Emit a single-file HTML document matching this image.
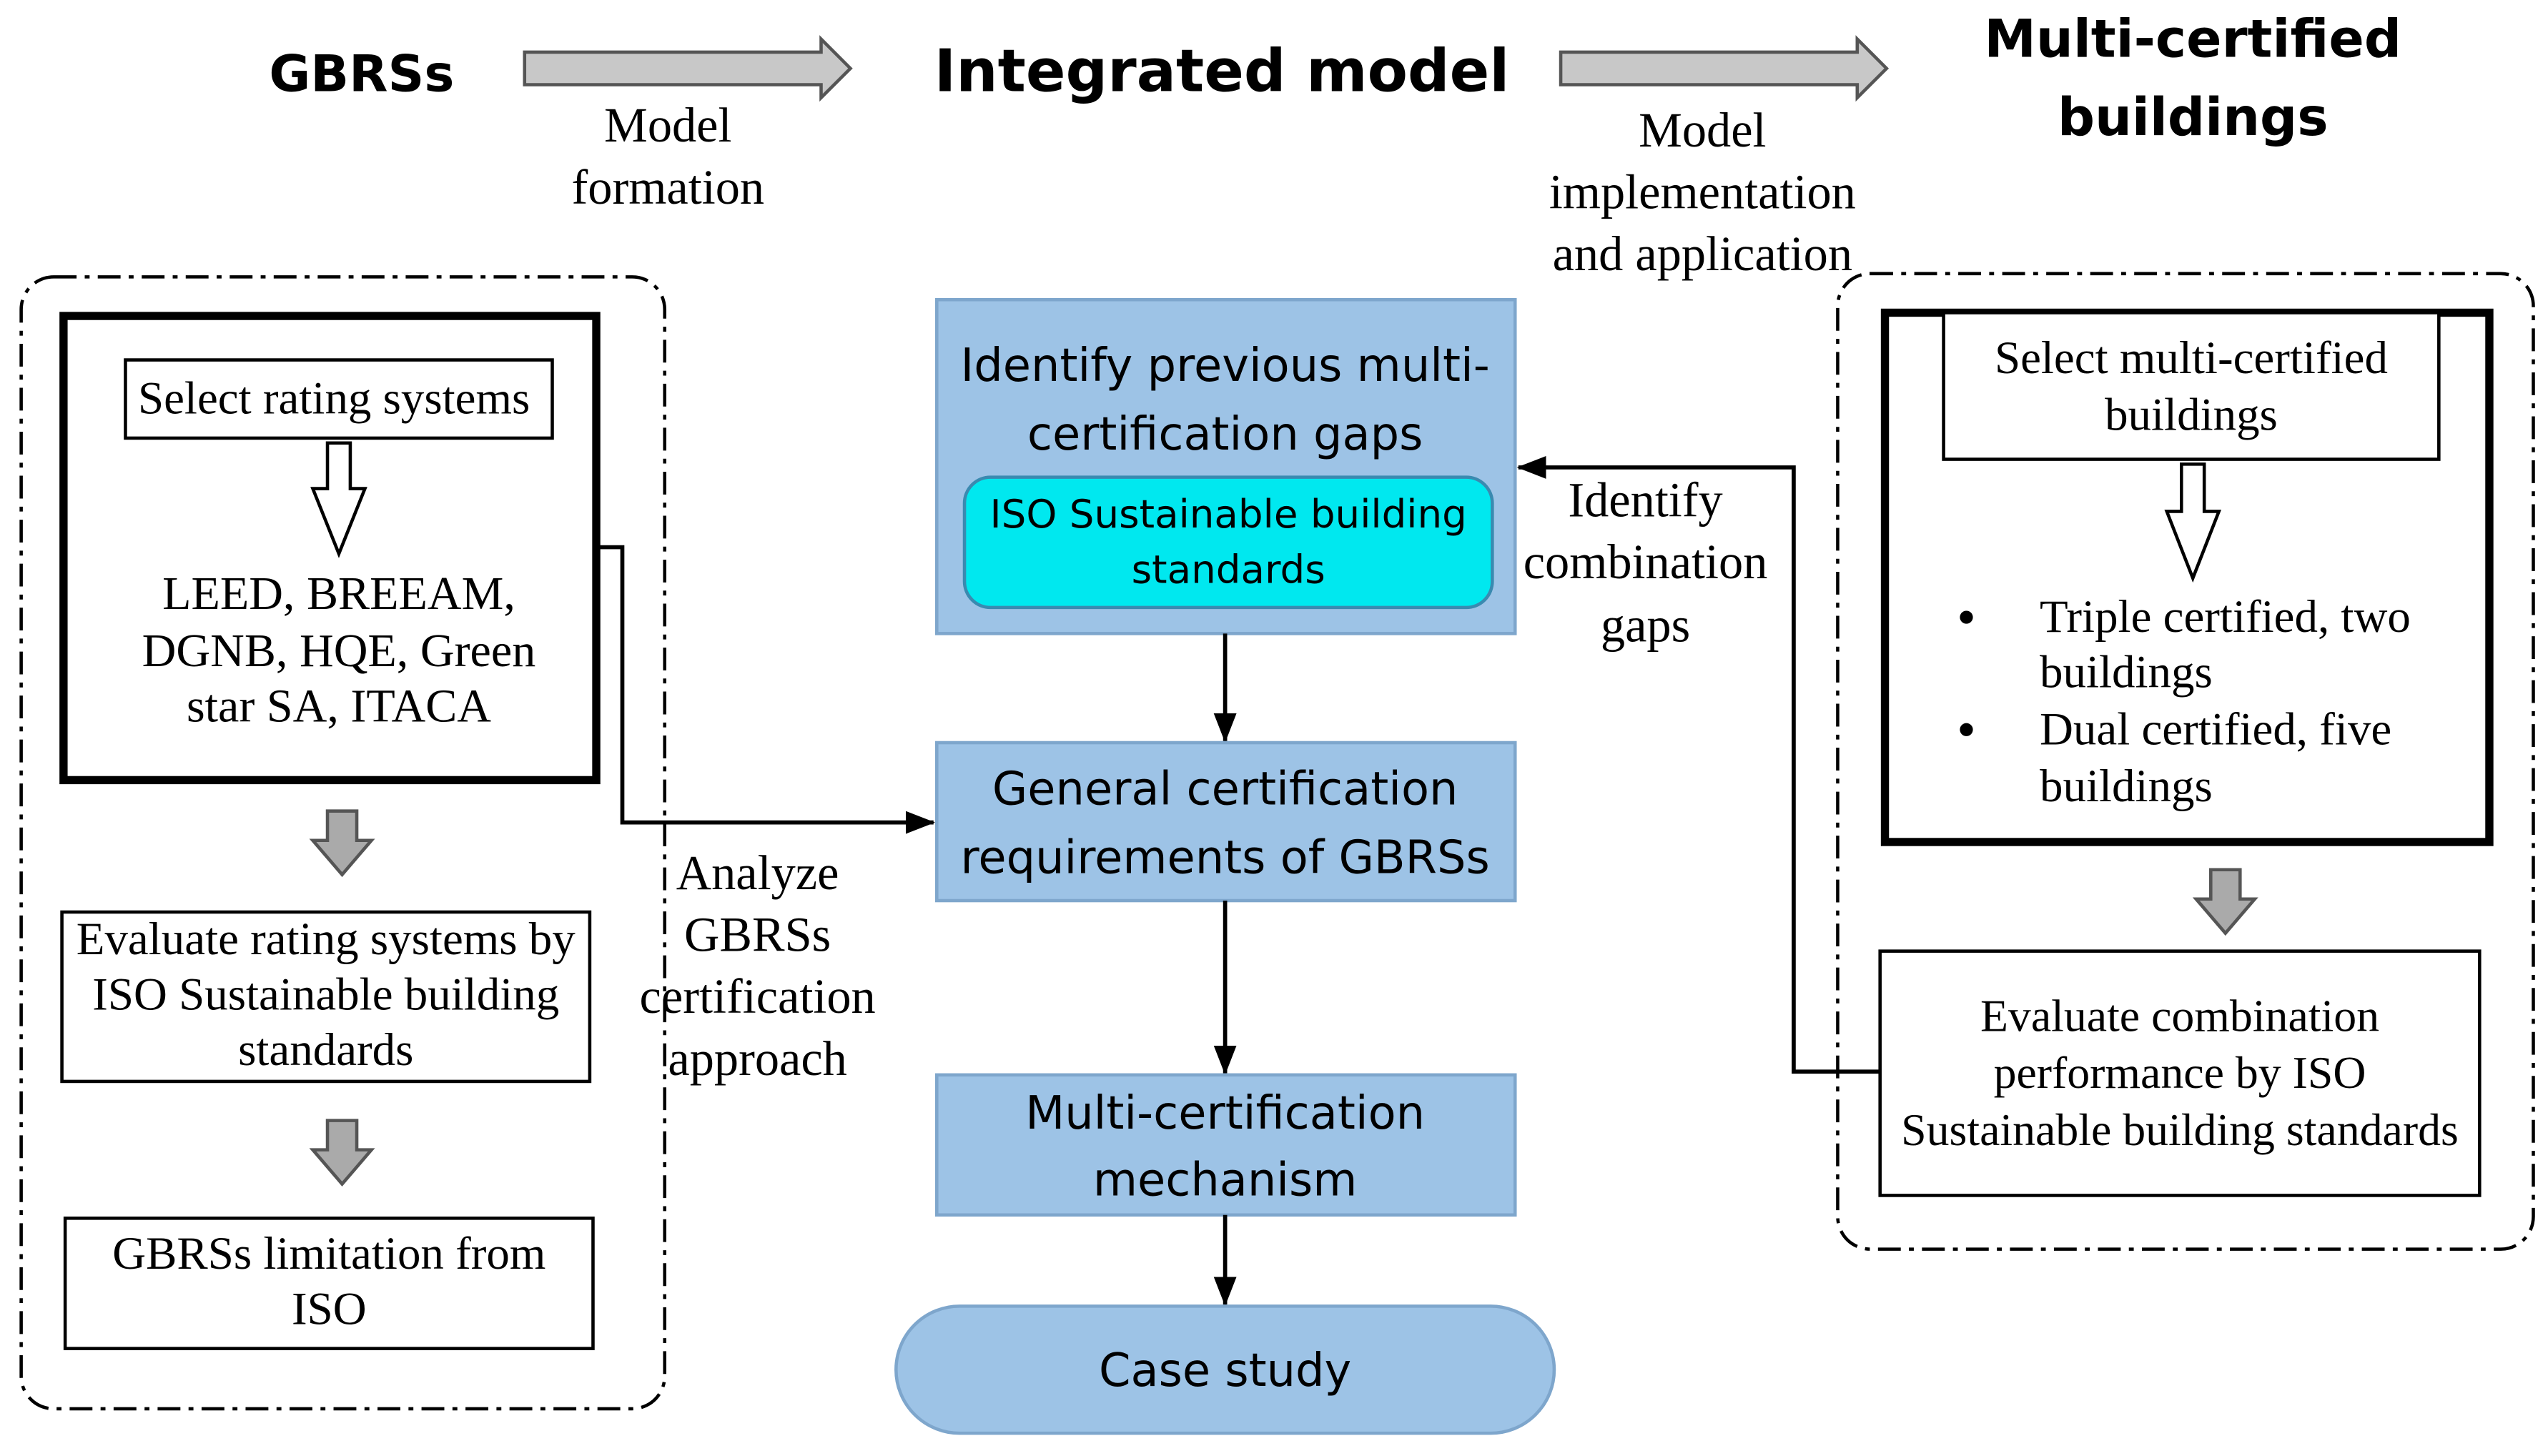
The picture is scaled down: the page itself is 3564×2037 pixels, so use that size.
<!DOCTYPE html>
<html><head><meta charset="utf-8">
<style>
html,body{margin:0;padding:0;background:#fff;}
svg{display:block;}
.s{font-family:"Liberation Serif",serif;fill:#000;}
.b{font-family:"DejaVu Sans","Liberation Sans",sans-serif;fill:#000;}
</style></head>
<body>
<svg width="3564" height="2037" viewBox="0 0 1564 894" preserveAspectRatio="none" xmlns="http://www.w3.org/2000/svg">
<defs>
<marker id="ah2" markerWidth="18" markerHeight="14" refX="17" refY="7" orient="auto" markerUnits="userSpaceOnUse" viewBox="0 0 18 14">
<path d="M0,0 L18,7 L0,14 z" fill="#000"/></marker>
</defs>

<!-- Header -->
<text class="b" x="222" y="56" font-size="31" font-weight="bold" text-anchor="middle">GBRSs</text>
<path d="M322,32 H504 V24 L522,42 L504,60 V52 H322 Z" fill="#c8c8c8" stroke="#555" stroke-width="2"/>
<text class="s" x="410" y="87" font-size="30" text-anchor="middle">Model</text>
<text class="s" x="410" y="125" font-size="30" text-anchor="middle">formation</text>
<text class="b" x="750" y="56" font-size="36" font-weight="bold" text-anchor="middle">Integrated model</text>
<path d="M958,32 H1140 V24 L1158,42 L1140,60 V52 H958 Z" fill="#c8c8c8" stroke="#555" stroke-width="2"/>
<text class="s" x="1045" y="90" font-size="30" text-anchor="middle">Model</text>
<text class="s" x="1045" y="128" font-size="30" text-anchor="middle">implementation</text>
<text class="s" x="1045" y="166" font-size="30" text-anchor="middle">and application</text>
<text class="b" x="1346" y="35" font-size="32" font-weight="bold" text-anchor="middle">Multi-certified</text>
<text class="b" x="1346" y="83" font-size="32" font-weight="bold" text-anchor="middle">buildings</text>

<!-- Left group -->
<rect x="13" y="170" width="395" height="695" rx="20" fill="none" stroke="#000" stroke-width="2" stroke-dasharray="14,5,3,5"/>
<rect x="39" y="194" width="327" height="285" fill="#fff" stroke="#000" stroke-width="5"/>
<rect x="77" y="221" width="262" height="48" fill="#fff" stroke="#000" stroke-width="2"/>
<text class="s" x="205" y="254" font-size="28.5" text-anchor="middle">Select rating systems</text>
<path d="M201,272 H215 V300 H224 L208,340 L192,300 H201 Z" fill="#fff" stroke="#000" stroke-width="2"/>
<text class="s" x="208" y="374" font-size="29" text-anchor="middle">LEED, BREEAM,</text>
<text class="s" x="208" y="409" font-size="29" text-anchor="middle">DGNB, HQE, Green</text>
<text class="s" x="208" y="443" font-size="29" text-anchor="middle">star SA, ITACA</text>
<path d="M201,498 H219 V516 H228 L210,537 L192,516 H201 Z" fill="#aaa" stroke="#555" stroke-width="2"/>
<rect x="38" y="560" width="324" height="104" fill="#fff" stroke="#000" stroke-width="2"/>
<text class="s" x="200" y="586" font-size="28.5" text-anchor="middle">Evaluate rating systems by</text>
<text class="s" x="200" y="620" font-size="28.5" text-anchor="middle">ISO Sustainable building</text>
<text class="s" x="200" y="654" font-size="28.5" text-anchor="middle">standards</text>
<path d="M201,688 H219 V706 H228 L210,727 L192,706 H201 Z" fill="#aaa" stroke="#555" stroke-width="2"/>
<rect x="40" y="748" width="324" height="80" fill="#fff" stroke="#000" stroke-width="2"/>
<text class="s" x="202" y="779" font-size="28.5" text-anchor="middle">GBRSs limitation from</text>
<text class="s" x="202" y="813" font-size="28.5" text-anchor="middle">ISO</text>

<!-- left connector -->
<path d="M366,336 H382 V505 H573" fill="none" stroke="#000" stroke-width="2.5" marker-end="url(#ah2)"/>
<text class="s" x="465" y="546" font-size="30" text-anchor="middle">Analyze</text>
<text class="s" x="465" y="584" font-size="30" text-anchor="middle">GBRSs</text>
<text class="s" x="465" y="622" font-size="30" text-anchor="middle">certification</text>
<text class="s" x="465" y="660" font-size="30" text-anchor="middle">approach</text>

<!-- Center -->
<rect x="575" y="184" width="355" height="205" fill="#9dc3e6" stroke="#7ea6cc" stroke-width="2"/>
<text class="b" x="752" y="234" font-size="28" text-anchor="middle">Identify previous multi-</text>
<text class="b" x="752" y="276" font-size="28" text-anchor="middle">certification gaps</text>
<rect x="592" y="293" width="324" height="80" rx="16" fill="#00e8ef" stroke="#3a8ab0" stroke-width="2"/>
<text class="b" x="754" y="324" font-size="24" text-anchor="middle">ISO Sustainable building</text>
<text class="b" x="754" y="358" font-size="24" text-anchor="middle">standards</text>
<line x1="752" y1="389" x2="752" y2="455" stroke="#000" stroke-width="2.5" marker-end="url(#ah2)"/>
<rect x="575" y="456" width="355" height="97" fill="#9dc3e6" stroke="#7ea6cc" stroke-width="2"/>
<text class="b" x="752" y="494" font-size="28" text-anchor="middle">General certification</text>
<text class="b" x="752" y="536" font-size="28" text-anchor="middle">requirements of GBRSs</text>
<line x1="752" y1="553" x2="752" y2="659" stroke="#000" stroke-width="2.5" marker-end="url(#ah2)"/>
<rect x="575" y="660" width="355" height="86" fill="#9dc3e6" stroke="#7ea6cc" stroke-width="2"/>
<text class="b" x="752" y="693" font-size="28" text-anchor="middle">Multi-certification</text>
<text class="b" x="752" y="734" font-size="28" text-anchor="middle">mechanism</text>
<line x1="752" y1="746" x2="752" y2="801" stroke="#000" stroke-width="2.5" marker-end="url(#ah2)"/>
<rect x="550" y="802" width="404" height="78" rx="39" fill="#9dc3e6" stroke="#7ea6cc" stroke-width="2"/>
<text class="b" x="752" y="851" font-size="28" text-anchor="middle">Case study</text>

<!-- right connector -->
<path d="M1154,658 H1101 V287 H932" fill="none" stroke="#000" stroke-width="2.5" marker-end="url(#ah2)"/>
<text class="s" x="1010" y="317" font-size="30" text-anchor="middle">Identify</text>
<text class="s" x="1010" y="355" font-size="30" text-anchor="middle">combination</text>
<text class="s" x="1010" y="394" font-size="30" text-anchor="middle">gaps</text>

<!-- Right group -->
<rect x="1128" y="168" width="427" height="599" rx="20" fill="none" stroke="#000" stroke-width="2" stroke-dasharray="14,5,3,5"/>
<rect x="1157" y="192" width="371" height="325" fill="#fff" stroke="#000" stroke-width="5"/>
<rect x="1193" y="192" width="304" height="90" fill="#fff" stroke="#000" stroke-width="2"/>
<text class="s" x="1345" y="229" font-size="28.5" text-anchor="middle">Select multi-certified</text>
<text class="s" x="1345" y="264" font-size="28.5" text-anchor="middle">buildings</text>
<path d="M1339,285 H1353 V314 H1362 L1346,355 L1330,314 H1339 Z" fill="#fff" stroke="#000" stroke-width="2"/>
<circle cx="1207" cy="379" r="4" fill="#000"/>
<circle cx="1207" cy="448" r="4" fill="#000"/>
<text class="s" x="1252" y="388" font-size="28.5">Triple certified, two</text>
<text class="s" x="1252" y="422" font-size="28.5">buildings</text>
<text class="s" x="1252" y="457" font-size="28.5">Dual certified, five</text>
<text class="s" x="1252" y="492" font-size="28.5">buildings</text>
<path d="M1357,534 H1375 V552 H1384 L1366,573 L1348,552 H1357 Z" fill="#aaa" stroke="#555" stroke-width="2"/>
<rect x="1154" y="584" width="368" height="150" fill="#fff" stroke="#000" stroke-width="2"/>
<text class="s" x="1338" y="633" font-size="28" text-anchor="middle">Evaluate combination</text>
<text class="s" x="1338" y="668" font-size="28" text-anchor="middle">performance by ISO</text>
<text class="s" x="1338" y="703" font-size="28" text-anchor="middle">Sustainable building standards</text>
</svg>
</body></html>
